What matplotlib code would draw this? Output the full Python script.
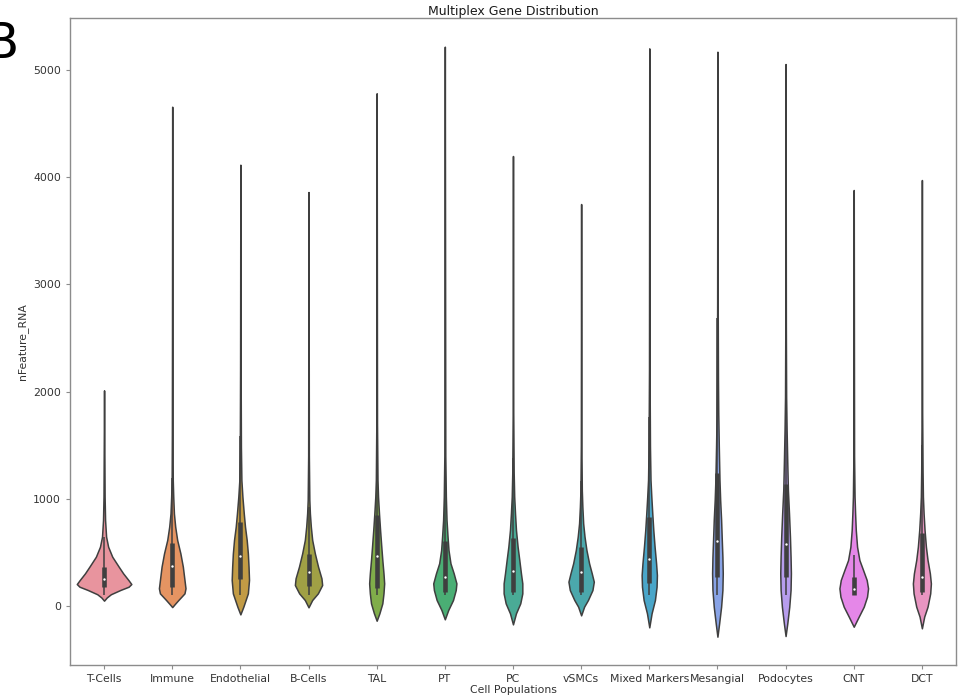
import numpy as np
import matplotlib
matplotlib.use("Agg")
import matplotlib.pyplot as plt

## DATA
populations = ["T-Cells", "Immune", "Endothelial", "B-Cells", "TAL", "PT", "PC",
               "vSMCs", "Mixed Markers", "Mesangial", "Podocytes", "CNT", "DCT"]

# violin outlines: nFeature_RNA levels and half-widths (category units)
tcells_y = [50, 80, 110, 150, 180, 205, 240, 305, 367, 460, 553, 647, 802, 1020, 1500, 2012]
tcells_w = [0, 0.04, 0.10, 0.24, 0.36, 0.40, 0.36, 0.28, 0.215, 0.12, 0.06, 0.03, 0.015, 0.008, 0.004, 0]
immune_y = [-10, 20, 56, 118, 165, 243, 367, 491, 616, 740, 864, 1020, 1175, 1600, 2500, 4658]
immune_w = [0, 0.04, 0.09, 0.18, 0.195, 0.18, 0.156, 0.12, 0.073, 0.044, 0.025, 0.015, 0.008, 0.005, 0.003, 0]
endo_y = [-78, -6, 118, 243, 367, 491, 616, 740, 864, 1020, 1175, 1486, 2200, 4117]
endo_w = [0, 0.044, 0.11, 0.127, 0.12, 0.11, 0.093, 0.068, 0.05, 0.03, 0.015, 0.008, 0.004, 0]
bcells_y = [-12, 56, 118, 196, 258, 367, 491, 616, 740, 864, 989, 1400, 3862]
bcells_w = [0, 0.054, 0.137, 0.2, 0.19, 0.14, 0.093, 0.054, 0.034, 0.02, 0.012, 0.005, 0]
tal_y = [-137, -68, 25, 118, 211, 305, 429, 553, 709, 864, 1020, 1175, 1700, 4783]
tal_w = [0, 0.04, 0.083, 0.10, 0.11, 0.10, 0.083, 0.068, 0.05, 0.034, 0.02, 0.012, 0.005, 0]
pt_y = [-124, -37, 56, 149, 211, 305, 398, 522, 647, 802, 1020, 1400, 5218]
pt_w = [0, 0.05, 0.12, 0.16, 0.17, 0.13, 0.083, 0.054, 0.04, 0.025, 0.015, 0.007, 0]
pc_y = [-171, -68, 25, 118, 211, 305, 429, 553, 709, 864, 1020, 1250, 1800, 4198]
pc_w = [0, 0.044, 0.107, 0.137, 0.137, 0.117, 0.093, 0.068, 0.044, 0.03, 0.018, 0.01, 0.004, 0]
vsmc_y = [-87, -6, 56, 149, 227, 305, 398, 522, 647, 771, 927, 1080, 1500, 3750]
vsmc_w = [0, 0.044, 0.10, 0.166, 0.186, 0.156, 0.117, 0.078, 0.05, 0.03, 0.018, 0.01, 0.004, 0]
mixed_y = [-199, -68, 56, 180, 289, 398, 553, 709, 864, 1020, 1175, 1486, 2200, 5202]
mixed_w = [0, 0.034, 0.083, 0.107, 0.112, 0.10, 0.078, 0.059, 0.044, 0.03, 0.018, 0.01, 0.004, 0]
mes_y = [-286, -162, -6, 149, 305, 460, 616, 802, 989, 1175, 1486, 1797, 2108, 2800, 5171]
mes_w = [0, 0.025, 0.054, 0.073, 0.078, 0.073, 0.064, 0.054, 0.04, 0.03, 0.02, 0.012, 0.008, 0.004, 0]
podo_y = [-280, -162, -6, 149, 305, 460, 647, 864, 1082, 1330, 1641, 1952, 2600, 5056]
podo_w = [0, 0.025, 0.054, 0.073, 0.078, 0.073, 0.064, 0.05, 0.034, 0.025, 0.015, 0.008, 0.004, 0]
cnt_y = [-193, -99, -6, 87, 165, 243, 336, 429, 553, 709, 864, 1020, 1400, 3881]
cnt_w = [0, 0.073, 0.147, 0.195, 0.21, 0.19, 0.137, 0.083, 0.049, 0.03, 0.02, 0.012, 0.005, 0]
dct_y = [-208, -99, -6, 118, 211, 305, 429, 553, 709, 864, 1020, 1250, 1800, 3974]
dct_w = [0, 0.034, 0.083, 0.122, 0.132, 0.117, 0.083, 0.059, 0.039, 0.025, 0.015, 0.01, 0.004, 0]

outline_y = [tcells_y, immune_y, endo_y, bcells_y, tal_y, pt_y, pc_y,
             vsmc_y, mixed_y, mes_y, podo_y, cnt_y, dct_y]
outline_w = [tcells_w, immune_w, endo_w, bcells_w, tal_w, pt_w, pc_w,
             vsmc_w, mixed_w, mes_w, podo_w, cnt_w, dct_w]

# inner box: quartiles, median, whiskers
q1 = [174, 180, 256, 187, 165, 134, 134, 134, 211, 273, 273, 102, 130]
median = [252, 373, 463, 317, 466, 274, 330, 317, 438, 606, 578, 155, 274]
q3 = [361, 584, 787, 482, 849, 610, 631, 547, 833, 1237, 1138, 267, 678]
whisk_lo = [100, 100, 100, 100, 100, 100, 100, 100, 100, 100, 100, 100, 100]
whisk_hi = [641, 1190, 1584, 925, 1875, 1324, 1377, 1167, 1766, 2683, 2436, 480, 1500]

## STYLE
colors = ["#e8949e", "#e59462", "#c29b45", "#a0a045", "#80ad4a", "#4aae74", "#4aab96",
          "#4ba8ac", "#4aa6c9", "#88a3e6", "#b79ded", "#e587e8", "#e895c1"]
gray = "#3f3f3f"
lw = 1.1
fs = 7.8

fig = plt.figure(figsize=(9.6, 6.98), dpi=100)
ax = fig.add_axes([0.0729, 0.0473, 0.9229, 0.9273])

for i, name in enumerate(populations):
    y = np.array(outline_y[i], dtype=float)
    w = np.array(outline_w[i], dtype=float)
    ax.fill_betweenx(y, i - w, i + w, facecolor=colors[i], edgecolor=gray, linewidth=lw, zorder=1)
    ax.plot([i, i], [whisk_lo[i], whisk_hi[i]], color=gray, linewidth=lw, solid_capstyle="butt", zorder=2)
    ax.plot([i, i], [q1[i], q3[i]], color=gray, linewidth=lw * 3, solid_capstyle="butt", zorder=2)
    ax.scatter(i, median[i], s=3, color="white", zorder=3, linewidths=0)

ax.set_xlim(-0.5, len(populations) - 0.5)
ax.set_ylim(-550, 5488)
ax.set_xticks(range(len(populations)))
ax.set_xticklabels(populations)
ax.set_yticks([0, 1000, 2000, 3000, 4000, 5000])

for sp in ax.spines.values():
    sp.set_color("0.55")
    sp.set_linewidth(1.0)
ax.tick_params(colors="0.55", labelcolor="0.2", labelsize=fs, length=3, width=0.8)

ax.set_xlabel("Cell Populations", fontsize=fs, color="0.2", labelpad=1)
ax.set_ylabel("nFeature_RNA", fontsize=fs, color="0.2", labelpad=4)
ax.set_title("Multiplex Gene Distribution", fontsize=9, color="0.1", pad=1.5)

# panel letter, partly off the left edge as in the original figure
fig.text(-0.017, 0.917, "B", fontsize=36, color="black", ha="left", va="baseline")

fig.savefig("out.png", dpi=100)
